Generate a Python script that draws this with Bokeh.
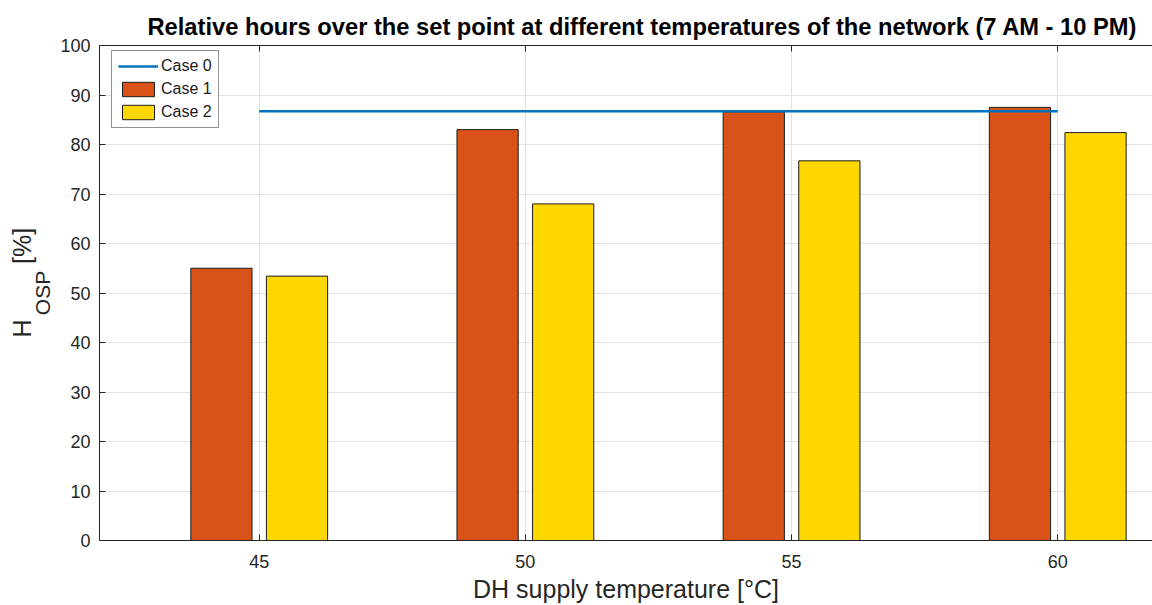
from bokeh.plotting import figure
from bokeh.models import (Range1d, FixedTicker, LinearAxis, Legend, LegendItem,
                          ColumnDataSource, Title)
from bokeh.transform import dodge
from bokeh.embed import file_html
from bokeh.resources import INLINE

# ---- data ----
temps = [45, 50, 55, 60]
case0 = [86.7, 86.7, 86.7, 86.7]
case1 = [55.0, 83.0, 86.6, 87.5]
case2 = [53.4, 68.0, 76.7, 82.4]
yticks = [0, 10, 20, 30, 40, 50, 60, 70, 80, 90, 100]
title_text = "Relative hours over the set point at different temperatures of the network (7 AM - 10 PM)"
xlabel_text = "DH supply temperature [°C]"

FONT = "Liberation Sans"
AX = "#262626"

src = ColumnDataSource(dict(t=temps, c0=case0, c1=case1, c2=case2))

p = figure(width=1152, height=605, output_backend="svg", toolbar_location=None,
           x_range=Range1d(42, 61.78), y_range=Range1d(0, 100),
           min_border_left=99, min_border_right=0, min_border_top=45, min_border_bottom=65)
p.outline_line_color = None
p.background_fill_color = "white"

r1 = p.vbar(x=dodge("t", -0.71, range=p.x_range), top="c1", width=1.15, source=src,
            fill_color="#D95319", line_color="#1a1a1a", line_width=1)
r2 = p.vbar(x=dodge("t", 0.71, range=p.x_range), top="c2", width=1.15, source=src,
            fill_color="#FFD700", line_color="#1a1a1a", line_width=1)
r0 = p.line(x="t", y="c0", source=src, line_color="#0072BD", line_width=2.5)

# axes
for ax in (p.xaxis[0], p.yaxis[0]):
    ax.axis_line_color = AX
    ax.major_tick_line_color = AX
    ax.major_tick_in = 6
    ax.major_tick_out = 0
    ax.minor_tick_line_color = None
    ax.major_label_text_font = FONT
    ax.major_label_text_font_size = "18px"
    ax.major_label_text_color = AX
p.xaxis.ticker = FixedTicker(ticks=temps)
p.yaxis.ticker = FixedTicker(ticks=yticks)
p.xaxis.major_label_standoff = 14
p.yaxis.major_label_standoff = 9

p.xaxis.axis_label = xlabel_text
p.xaxis.axis_label_text_font = FONT
p.xaxis.axis_label_text_font_size = "25px"
p.xaxis.axis_label_text_font_style = "normal"
p.xaxis.axis_label_text_color = AX
p.xaxis.axis_label_text_line_height = 0.6
p.xaxis.axis_label_standoff = 4

# subscript of the y label as the axis label, main part as a title further out
p.yaxis.axis_label = "OSP"
p.yaxis.axis_label_text_font = FONT
p.yaxis.axis_label_text_font_size = "21px"
p.yaxis.axis_label_text_font_style = "normal"
p.yaxis.axis_label_text_color = AX
p.yaxis.axis_label_text_line_height = 0.7
p.yaxis.axis_label_standoff = 3

ylab = Title(text="H" + "\u00a0" * 8 + "[%]", align="left", offset=203,
             text_font=FONT, text_font_size="25px", text_font_style="normal",
             text_color=AX, standoff=-14, text_line_height=0.7)
p.add_layout(ylab, "left")

top_ax = LinearAxis(ticker=FixedTicker(ticks=temps), major_label_text_font_size="1px",
                    major_label_text_color=None,
                    axis_line_color=AX, major_tick_line_color=AX, major_tick_in=6,
                    major_tick_out=0, minor_tick_line_color=None, major_label_standoff=0)
p.add_layout(top_ax, "above")

p.xgrid.ticker = FixedTicker(ticks=temps)
p.ygrid.ticker = FixedTicker(ticks=yticks)
p.xgrid.grid_line_color = "#e2e2e2"
p.ygrid.grid_line_color = "#e2e2e2"

legend = Legend(items=[LegendItem(label="Case 0", renderers=[r0]),
                       LegendItem(label="Case 1", renderers=[r1]),
                       LegendItem(label="Case 2", renderers=[r2])],
                location=(12, 412), orientation="vertical",
                border_line_color=AX, border_line_width=1, background_fill_color="white",
                background_fill_alpha=1, label_text_font=FONT, label_text_font_size="16px",
                label_text_color="#1a1a1a", glyph_width=40, glyph_height=18, label_height=18,
                spacing=5, padding=6, margin=0, label_standoff=3)
p.add_layout(legend, "center")

p.title.text = title_text
p.title.align = "left"
p.title.offset = 48
p.title.standoff = 12
p.title.text_font = "'Liberation Sans Narrow', 'Liberation Sans'"
p.title.text_font_style = "bold"
p.title.text_font_size = "23.7px"
p.title.text_color = "#000000"

open("out.html", "w").write(file_html(p, INLINE))
